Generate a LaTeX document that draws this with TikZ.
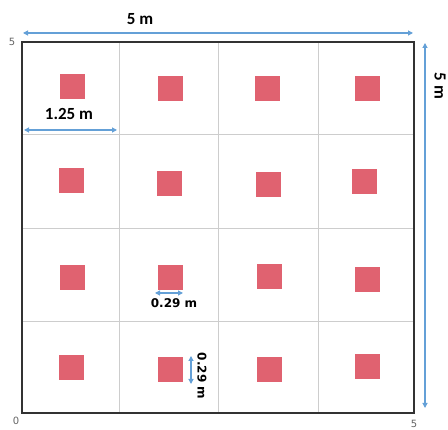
\documentclass[tikz,border=0pt]{standalone}
\usepackage{fontspec}
\setmainfont{Carlito}
\newfontfamily\dejavu{DejaVu Sans}
\usetikzlibrary{arrows.meta}
\definecolor{plant}{RGB}{224,98,112}
\definecolor{dimblue}{RGB}{100,160,215}
\definecolor{gridgray}{RGB}{205,205,205}
\definecolor{framegray}{RGB}{50,50,50}
\definecolor{labgray}{RGB}{100,100,100}
\tikzset{
  sq/.style={fill=plant, draw=none, minimum size=25pt, inner sep=0pt},
  dimarrow/.style={draw=dimblue, line width=1.1pt, {Triangle[length=5pt,width=5pt]}-{Triangle[length=5pt,width=5pt]}},
  dimlab/.style={font=\bfseries\fontsize{17}{17}\selectfont, inner sep=0pt},
  smalllab/.style={font=\dejavu\bfseries\fontsize{12}{12}\selectfont, inner sep=0pt},
  cornerlab/.style={font=\dejavu\fontsize{10}{10}\selectfont, text=labgray, inner sep=0pt},
  gridline/.style={draw=gridgray, line width=1pt},
}
\begin{document}
\begin{tikzpicture}[x=1pt,y=-1pt]
\useasboundingbox (0,0) rectangle (448,430);
% grid
\draw[gridline] (119,42) -- (119,413);
\draw[gridline] (218,42) -- (218,413);
\draw[gridline] (318,42) -- (318,413);
\draw[gridline] (22,135) -- (414,135);
\draw[gridline] (22,229) -- (414,229);
\draw[gridline] (22,322) -- (414,322);
% frame
\draw[framegray, line width=1.8pt] (22,42) rectangle (414,413);
% squares
\node[sq] (s11) at (72,87) {};
\node[sq] (s12) at (170,89) {};
\node[sq] (s13) at (267,89) {};
\node[sq] (s14) at (367,89) {};
\node[sq] (s21) at (71,181) {};
\node[sq] (s22) at (169,184) {};
\node[sq] (s23) at (268,185) {};
\node[sq] (s24) at (364,182) {};
\node[sq] (s31) at (72,278) {};
\node[sq] (s32) at (170,278) {};
\node[sq] (s33) at (269,277) {};
\node[sq] (s34) at (367,280) {};
\node[sq] (s41) at (71,368) {};
\node[sq] (s42) at (170,370) {};
\node[sq] (s43) at (269,370) {};
\node[sq] (s44) at (367,367) {};
% dimension arrows
\coordinate (ta) at (23,33);
\coordinate (tb) at (413,33);
\draw[dimarrow] (ta) -- (tb);
\node[dimlab] (l5top) at (140,19) {5 m};
\coordinate (ra) at (425,43);
\coordinate (rb) at (425,408);
\draw[dimarrow] (ra) -- (rb);
\node[dimlab, rotate=-90] (l5right) at (440,86) {5 m};
\coordinate (ca) at (24,130);
\coordinate (cb) at (117,130);
\draw[dimarrow] (ca) -- (cb);
\node[dimlab] (l125) at (69,114) {1.25 m};
\coordinate (ha) at (155,293);
\coordinate (hb) at (183,293);
\draw[dimarrow] (ha) -- (hb);
\node[smalllab] (l029h) at (174,303) {0.29 m};
\coordinate (va) at (191,356);
\coordinate (vb) at (191,384);
\draw[dimarrow] (va) -- (vb);
\node[smalllab, rotate=-90] (l029v) at (202,376) {0.29 m};
% corner labels
\node[cornerlab] (c5tl) at (12,42) {5};
\node[cornerlab] (c0) at (16,421) {0};
\node[cornerlab] (c5br) at (414,424) {5};
\end{tikzpicture}
\end{document}
